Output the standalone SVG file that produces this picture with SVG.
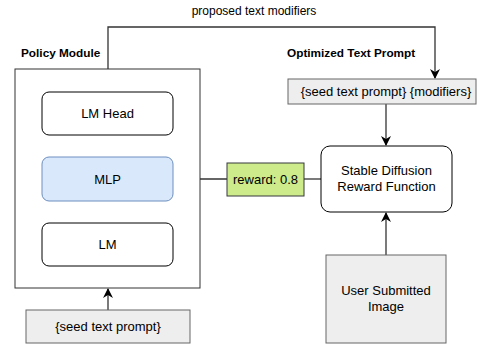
<svg xmlns="http://www.w3.org/2000/svg" width="477" height="348" viewBox="0 0 477 348">
<defs>
<marker id="arr" viewBox="0 0 10 10" refX="9" refY="5" markerWidth="10" markerHeight="10" markerUnits="userSpaceOnUse" orient="auto">
<path d="M0,0 L10,5 L0,10 L3,5 Z" fill="#000"/>
</marker>
</defs>
<style>
text{font-family:"Liberation Sans",Arial,sans-serif;font-size:13px;fill:#000;text-anchor:middle}
.b{font-weight:bold;text-anchor:start;font-size:11.8px}
.s{font-size:12px}
.box{fill:#fff;stroke:#000;stroke-width:1}
.grey{fill:#eeeeee;stroke:#666;stroke-width:1}
.line{fill:none;stroke:#333;stroke-width:1.3}
</style>
<rect width="477" height="348" fill="#fff"/>
<g id="connectors">
<path class="line" d="M108,69 V27 H435 V78" marker-end="url(#arr)"/>
<path class="line" d="M386,104 V145" marker-end="url(#arr)"/>
<path class="line" d="M386,255 V213" marker-end="url(#arr)"/>
<path class="line" d="M321,179 H304"/>
<path class="line" d="M227,179 H175" marker-end="url(#arr)"/>
<path class="line" d="M108,310 V289" marker-end="url(#arr)"/>
<text class="s" x="254" y="15">proposed text modifiers</text>
</g>
<g id="policy">
<rect x="15" y="69" width="185" height="219" fill="#fff" stroke="#333" stroke-width="1"/>
<text class="b" x="21" y="57">Policy Module</text>
</g>
<g id="lmhead">
<rect class="box" x="42" y="92" width="131" height="43" rx="7"/>
<text x="107.5" y="118">LM Head</text>
</g>
<g id="mlp">
<rect x="42" y="157" width="131" height="44" rx="7" fill="#dae8fc" stroke="#6c8ebf"/>
<text x="107.5" y="183.5">MLP</text>
</g>
<g id="lm">
<rect class="box" x="42" y="223" width="131" height="43" rx="7"/>
<text x="107.5" y="249">LM</text>
</g>
<g id="seed">
<rect class="grey" x="26" y="310" width="164" height="33"/>
<text x="108" y="331">{seed text prompt}</text>
</g>
<g id="optimized">
<text class="b" x="287" y="57">Optimized Text Prompt</text>
<rect class="grey" x="288" y="79" width="188" height="25"/>
<text x="386" y="96">{seed text prompt} {modifiers}</text>
</g>
<g id="reward">
<rect x="227" y="163" width="77" height="33" fill="#cdeb8b" stroke="#36393d"/>
<text x="265.5" y="184">reward: 0.8</text>
</g>
<g id="sd">
<rect class="box" x="321" y="146" width="131" height="66" rx="9"/>
<text x="386.5" y="175">Stable Diffusion</text>
<text x="386.5" y="191">Reward Function</text>
</g>
<g id="user">
<rect class="grey" x="326" y="255" width="120" height="88"/>
<text x="386" y="295">User Submitted</text>
<text x="386" y="311">Image</text>
</g>
</svg>
